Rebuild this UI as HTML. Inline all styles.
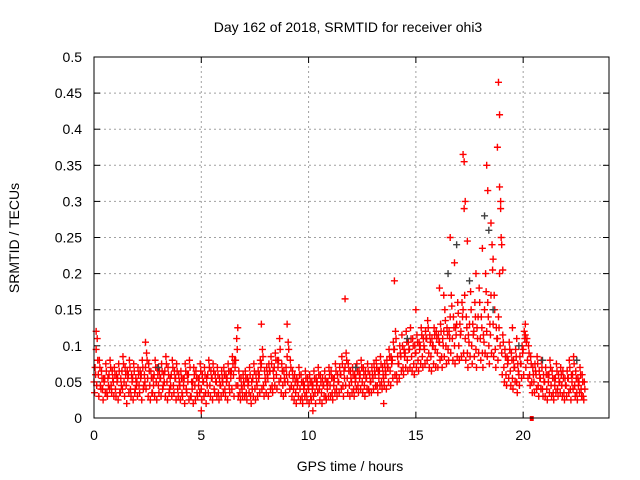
<!DOCTYPE html>
<html><head><meta charset="utf-8"><style>
html,body{margin:0;padding:0;background:#fff;}
svg{display:block;font-family:"Liberation Sans",sans-serif;}
</style></head><body>
<svg id="chart" width="640" height="480" viewBox="0 0 640 480">
<text x="348" y="32" font-size="14" text-anchor="middle" fill="#000">Day 162 of 2018, SRMTID for receiver ohi3</text>
<text transform="translate(19,238) rotate(-90)" font-size="14" text-anchor="middle">SRMTID / TECUs</text>
<text x="350" y="471" font-size="14" text-anchor="middle">GPS time / hours</text>
<g id="grid"></g>
<g id="axes"></g>
<g id="pts"></g>
<rect x="94" y="57" width="515" height="361" fill="none" stroke="#000" stroke-width="1"/>
</svg>
<script>
const xTicks=[0,5,10,15,20];
const yTicks=["0","0.05","0.1","0.15","0.2","0.25","0.3","0.35","0.4","0.45","0.5"];
const seriesA=[50,95,60,45,40,55,35,60,45,50, 40,55,35,65,50,45,60,40,55,35, 50,45,60,40,70,55,45,35,60,50, 45,55,40,65,50,35,60,45,55,40, 45,35,55,40,60,30,50,45,35,55, 40,50,35,60,45,55,40,50,35,45, 50,40,55,45,65,60,80,45,35,40, 45,35,50,30,55,40,45,60,75,45, 50,55,65,45,70,60,80,55,45,50, 85,60,45,40,35,50,40,30,45,35, 40,30,45,35,50,40,35,45,30,50, 45,35,55,40,50,60,45,70,55,45, 50,40,55,45,60,50,45,55,40,50, 55,60,45,65,50,55,60,70,65,80, 95,60,75,85,70,90,80,95,85,75, 90,80,100,85,95,110,90,85,100,95, 90,105,85,120,100,95,140,110,100,130, 100,120,150,110,90,130,100,120,95,140, 110,90,150,120,100,170,130,95,110,200, 90,70,60,80,65,55,70,50,60,75, 95,115,80,60,50,50,60,45,55,40, 50,40,60,45,35,55,40,50,45,35, 45,55,40,60,45,35,50,40,30];
const seriesB=[70,110,80,65,55,75,55,80,65,70, 60,75,55,85,70,65,80,60,75,55, 70,65,80,60,90,75,65,55,80,70, 65,75,60,85,70,55,80,65,75,60, 65,55,75,60,80,50,70,65,55,75, 60,70,55,80,65,75,60,70,55,65, 70,60,75,65,85,80,110,65,55,60, 65,55,70,50,75,60,65,80,95,65, 70,75,85,65,90,80,110,75,65,70, 105,80,65,60,55,70,60,50,65,55, 60,50,65,55,70,60,55,65,50,70, 65,55,75,60,70,85,65,90,75,65, 70,60,75,65,80,70,65,75,60,70, 75,80,65,85,70,75,80,95,85,105, 120,85,100,115,95,120,105,125,110,100, 115,105,125,110,120,135,115,110,125,120, 115,130,110,150,125,120,170,140,125,160, 130,160,290,140,115,175,130,160,125,180, 140,115,200,160,130,240,170,125,140,300, 115,95,85,105,90,80,95,75,85,100, 120,105,100,85,70,75,85,65,80,60, 70,60,80,65,55,75,60,70,65,55, 65,80,60,85,65,55,70,60,50];
const seriesC=[35,45,30,40,25,35,30,40,35,30, 30,25,35,40,30,20,35,30,25,40, 30,35,25,45,40,30,25,35,30,25, 35,30,45,30,25,40,30,35,25,30, 25,30,20,35,25,30,20,25,30,35, 25,30,20,35,30,25,35,30,25,30, 35,30,25,35,40,30,45,30,25,30, 30,25,35,20,30,25,30,35,40,30, 35,30,40,35,45,40,50,35,30,35, 50,40,30,25,20,30,25,20,30,25, 20,25,30,20,35,25,20,30,25,30, 30,25,35,30,35,40,30,45,35,30, 35,30,40,35,40,35,30,40,35,35, 40,45,35,45,40,45,40,50,45,55, 60,50,55,65,60,70,65,70,65,60, 70,65,75,70,75,80,70,65,75,70, 70,80,70,85,75,80,90,80,75,85, 80,85,90,80,70,85,75,85,70,90, 80,70,90,85,75,90,85,70,80,100, 60,50,45,55,45,40,50,35,45,55, 60,70,55,45,35,35,40,30,40,30, 30,25,35,30,25,35,30,35,30,25, 30,35,25,40,30,25,35,30,25];
const seriesD=[60,80,70,55,50,65,45,70,55,60, 50,65,45,75,60,55,70,50,65,45, 60,55,70,50,80,65,55,45,70,60, 55,65,50,75,60,45,70,55,65,50, 55,45,65,50,70,40,60,55,45,65, 50,60,45,70,55,65,50,60,45,55, 60,50,65,55,75,70,95,55,45,50, 55,45,60,40,65,50,55,70,85,55, 60,65,75,55,80,70,95,65,55,60, 95,70,55,50,45,60,50,40,55,45, 50,40,55,45,60,50,45,55,40,60, 55,45,65,50,60,75,55,80,65,55, 60,50,65,55,70,60,55,65,50,60, 65,70,55,75,60,65,70,85,75,95, 110,75,90,100,85,105,95,110,100,90, 105,95,115,100,110,125,105,100,115,110, 105,120,100,135,115,110,155,125,115,145, 115,140,170,125,105,150,115,140,110,160, 125,105,175,140,115,205,150,110,125,250, 105,85,75,95,80,70,85,65,75,90, 110,110,90,75,60,65,75,55,70,50, 60,50,70,55,45,65,50,60,55,45, 55,70,50,75,55,45,60,50,40];
const spikeT=[0.1,2.4,6.7,7.8,9.0,11.7,14.0,16.3,16.6,16.8,17.2,17.25,17.3,17.4,17.8,18.1,18.3,18.35,18.5,18.6,18.8,18.85,18.9,18.9,18.95,19.0,19.05,5.0,10.2,13.5,15.0,16.1,20.1,19.5,19.7];
const spikeY=[120,105,125,130,130,165,190,170,250,215,365,355,300,245,200,235,350,315,270,220,375,465,420,320,290,240,205,10,10,20,150,180,130,125,110];
const zeroT=[20.4];
const zeroY=[0];
const darkT=[12.2,16.5,17.5,18.2,18.6,19.8,20.9,22.5,14.6,3.0,16.9,18.4];
const darkY=[70,200,190,280,150,100,80,80,110,70,240,260];

const NS="http://www.w3.org/2000/svg";
const X0=94,X1=609,Y0=418,Y1=57;
function sx(t){return X0+(X1-X0)*t/24;}
function sy(v){return Y0-(Y0-Y1)*v/0.5;}
const grid=document.getElementById('grid'),axes=document.getElementById('axes'),pts=document.getElementById('pts');
function mk(tag,attrs,parent){const e=document.createElementNS(NS,tag);for(const k in attrs)e.setAttribute(k,attrs[k]);parent.appendChild(e);return e;}
yTicks.forEach(function(lbl){
  const v=parseFloat(lbl),y=sy(v);
  if(v>0&&v<0.5){const g=mk('line',{x1:X0,x2:X1,y1:y,y2:y,stroke:'#a0a0a0','stroke-dasharray':'2,3'},grid);
  
  }
  mk('line',{x1:X0,x2:X0+6,y1:y,y2:y,stroke:'#000'},axes);
  mk('line',{x1:X1,x2:X1-6,y1:y,y2:y,stroke:'#000'},axes);
  const t=mk('text',{x:X0-12,y:y+5,'font-size':14,'text-anchor':'end'},axes);
  t.textContent=lbl;
  
  
});
xTicks.forEach(function(v){
  const x=sx(v);
  if(v>0){const g=mk('line',{x1:x,x2:x,y1:Y0,y2:Y1,stroke:'#a0a0a0','stroke-dasharray':'2,3'},grid);
  
  }
  mk('line',{x1:x,x2:x,y1:Y0,y2:Y0-6,stroke:'#000'},axes);
  mk('line',{x1:x,x2:x,y1:Y1,y2:Y1+6,stroke:'#000'},axes);
  const t=mk('text',{x:x,y:Y0+22,'font-size':14,'text-anchor':'middle'},axes);
  t.textContent=String(v);
  
  
});
function plus(t,v,col){
  const x=sx(t),y=sy(v/1000);
  const p=mk('path',{d:'M'+(x-3.5)+' '+y+'h7M'+x+' '+(y-3.5)+'v7',stroke:col,'stroke-width':1.4,fill:'none'},pts);
  
  
}
seriesA.forEach(function(v,i){plus(i*0.1,v,'#ff0000');});
seriesC.forEach(function(v,i){plus(i*0.1+0.025,v,'#ff0000');});
seriesB.forEach(function(v,i){plus(i*0.1+0.05,v,'#ff0000');});
seriesD.forEach(function(v,i){plus(i*0.1+0.075,v,'#ff0000');});
spikeT.forEach(function(t,i){plus(t,spikeY[i],'#ff0000');});
darkT.forEach(function(t,i){plus(t,darkY[i],'#404040');});
zeroT.forEach(function(t,i){
  const r=mk('rect',{x:sx(t)-2,y:sy(zeroY[i])-2,width:4,height:5,fill:'#ff0000'},pts);
  
  
});
</script>
</body></html>
